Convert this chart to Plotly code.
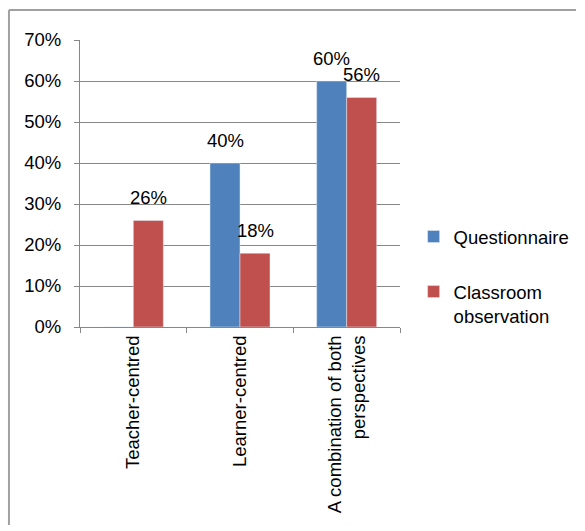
import plotly.graph_objects as go

categories = ["Teacher-centred", "Learner-centred", "A combination of both<br>perspectives"]
questionnaire = [0, 40, 60]
observation = [26, 18, 56]
series_names = ["Questionnaire", "Classroom<br>observation"]
y_ticks = [0, 10, 20, 30, 40, 50, 60, 70]
y_tick_labels = ["0%", "10%", "20%", "30%", "40%", "50%", "60%", "70%"]

BLUE = "#4F81BD"
RED = "#C0504D"
GRID = "#878787"
FRAME = "#a0a0a0"
FONT = "Liberation Sans, Arial, sans-serif"
FS = 18.5

fig = go.Figure()
fig.add_trace(go.Bar(x=categories, y=questionnaire, name=series_names[0],
                     marker_color=BLUE, legendgroup="q"))
fig.add_trace(go.Bar(x=categories, y=observation, name=series_names[1],
                     marker_color=RED, legendgroup="o"))

# value labels above each non-zero bar, shifted to the bar's slot in the group
half_bar = 15
for vals, shift in ((questionnaire, -half_bar), (observation, half_bar)):
    for cat, v in zip(categories, vals):
        if v:
            fig.add_annotation(x=cat, y=v, text=f"{v}%", showarrow=False,
                               xshift=shift, yshift=10, yanchor="bottom",
                               font=dict(size=FS, color="black", family=FONT))

# chart frame: only its top and left edges fall inside the page
frame_left, frame_top = -0.222, 1.1045
fig.add_shape(type="line", xref="paper", yref="paper",
              x0=frame_left, x1=1.55, y0=frame_top, y1=frame_top,
              line=dict(color=FRAME, width=2), layer="below")
fig.add_shape(type="line", xref="paper", yref="paper",
              x0=frame_left, x1=frame_left, y0=-0.69, y1=frame_top,
              line=dict(color=FRAME, width=2), layer="below")

fig.update_layout(
    width=585, height=531,
    margin=dict(l=80, r=185, t=40, b=204, autoexpand=False),
    paper_bgcolor="white", plot_bgcolor="white",
    barmode="group", bargap=0.4375, bargroupgap=0,
    font=dict(family=FONT, size=FS, color="black"),
    showlegend=True,
    legend=dict(x=1.0425, xanchor="left", y=0.176, yanchor="middle",
                valign="top", tracegroupgap=28,
                font=dict(size=FS, color="black", family=FONT)),
    xaxis=dict(showline=True, linecolor=GRID, linewidth=1,
               ticks="outside", tickson="boundaries", ticklen=5, tickcolor=GRID,
               tickangle=-90, showgrid=False,
               tickfont=dict(size=FS, color="black", family=FONT)),
    yaxis=dict(range=[0, 70], tickvals=y_ticks, ticktext=y_tick_labels,
               showline=True, linecolor=GRID, linewidth=1,
               ticks="outside", ticklen=5, tickcolor=GRID, ticklabelstandoff=9,
               showgrid=True, gridcolor=GRID, gridwidth=1, zeroline=False,
               tickfont=dict(size=FS, color="black", family=FONT)),
)

fig.write_html("out.html")
